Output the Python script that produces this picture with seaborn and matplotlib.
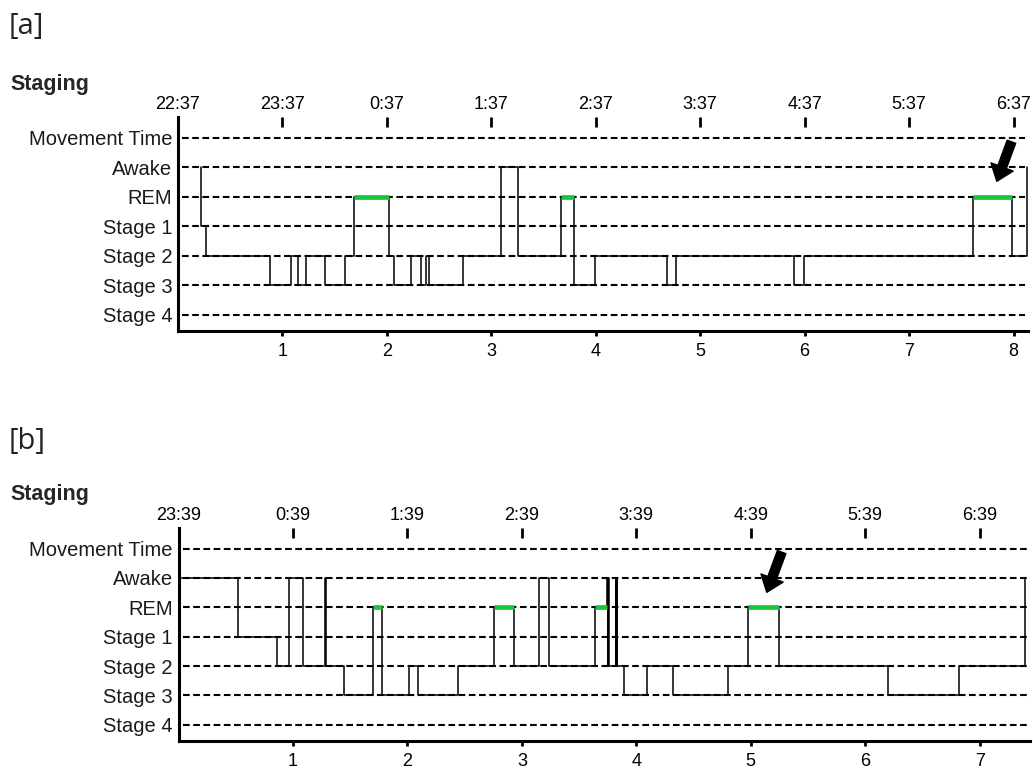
import numpy as np
import pandas as pd
import matplotlib
matplotlib.use('Agg')
import matplotlib.pyplot as plt
import seaborn as sns

# stage names, bottom to top
stage_order = ['Stage 4', 'Stage 3', 'Stage 2', 'Stage 1', 'REM', 'Awake', 'Movement Time']

# [a] hypnogram: onset (hours) and stage
a_onset = [0.22, 0.22, 0.27, 0.88, 1.08, 1.15, 1.23, 1.41, 1.60, 1.69, 2.02, 2.07, 2.23, 2.33,
           2.37, 2.40, 2.73, 3.09, 3.26, 3.67, 3.79, 3.99, 4.68, 4.77, 5.90, 5.99, 7.61, 7.99, 8.13]
a_stage = ['Awake', 'Stage 1', 'Stage 2', 'Stage 3', 'Stage 2', 'Stage 3', 'Stage 2', 'Stage 3',
           'Stage 2', 'REM', 'Stage 2', 'Stage 3', 'Stage 2', 'Stage 3', 'Stage 2', 'Stage 3',
           'Stage 2', 'Awake', 'Stage 2', 'REM', 'Stage 3', 'Stage 2', 'Stage 3', 'Stage 2',
           'Stage 3', 'Stage 2', 'REM', 'Stage 2', 'Awake']
a_clock = ['22:37', '23:37', '0:37', '1:37', '2:37', '3:37', '4:37', '5:37', '6:37']
a_hours = [1, 2, 3, 4, 5, 6, 7, 8]
a_arrow_tail = (7.98, 5.86)
a_arrow_tip = (7.84, 4.52)

# [b] hypnogram
b_onset = [0.00, 0.52, 0.86, 0.965, 1.09, 1.28, 1.285, 1.45, 1.70, 1.78, 2.01, 2.09, 2.44, 2.76,
           2.93, 3.15, 3.24, 3.64, 3.745, 3.75, 3.755, 3.76, 3.82, 3.825, 3.83, 3.835, 3.89,
           4.09, 4.32, 4.80, 4.98, 5.25, 6.20, 6.82, 7.40]
b_stage = ['Awake', 'Stage 1', 'Stage 2', 'Awake', 'Stage 2', 'Awake', 'Stage 2', 'Stage 3',
           'REM', 'Stage 3', 'Stage 2', 'Stage 3', 'Stage 2', 'REM', 'Stage 2', 'Awake', 'Stage 2',
           'REM', 'Awake', 'Stage 2', 'Awake', 'Stage 2', 'Awake', 'Stage 2', 'Awake', 'Stage 2',
           'Stage 3', 'Stage 2', 'Stage 3', 'Stage 2', 'REM', 'Stage 2', 'Stage 3', 'Stage 2', 'Awake']
b_clock = ['23:39', '0:39', '1:39', '2:39', '3:39', '4:39', '5:39', '6:39']
b_hours = [1, 2, 3, 4, 5, 6, 7]
b_arrow_tail = (5.27, 5.88)
b_arrow_tip = (5.14, 4.51)

sns.set_theme(style='white')
plt.rcParams['font.family'] = ['Liberation Sans', 'DejaVu Sans']

GREEN = '#14c83c'

fig = plt.figure(figsize=(10.33, 7.69), dpi=100)


def draw_panel(ax, onset, stage, clock, hours, xmax, tail, tip):
    df = pd.DataFrame({'t': onset, 'level': [stage_order.index(s) for s in stage]})

    # dashed stage lines
    ax.hlines(range(len(stage_order)), 0.04, xmax - 0.03, colors='black',
              linestyles=(0, (3.2, 1.7)), linewidth=1.5, zorder=1)

    sns.lineplot(data=df, x='t', y='level', drawstyle='steps-post', estimator=None,
                 sort=False, color='black', linewidth=1.1, ax=ax, zorder=3)

    # REM periods in green
    for i in range(len(df) - 1):
        if stage[i] == 'REM':
            ax.plot([onset[i], onset[i + 1]], [4, 4], color=GREEN, linewidth=3.4,
                    solid_capstyle='butt', zorder=4)

    ax.annotate('', xy=tip, xytext=tail,
                arrowprops=dict(facecolor='black', edgecolor='black', width=6.5,
                                headwidth=17, headlength=11, shrink=0))

    ax.set_xlim(0, xmax)
    ax.set_ylim(-0.55, 6.7)
    ax.set_yticks(range(len(stage_order)))
    ax.set_yticklabels(stage_order, fontsize=14.5, color='#1a1a1a')
    ax.set_xticks(hours)
    ax.set_xticklabels([str(h) for h in hours], fontsize=13)
    ax.set_xlabel('')
    ax.set_ylabel('')
    for s in ['top', 'right']:
        ax.spines[s].set_visible(False)
    for s in ['left', 'bottom']:
        ax.spines[s].set_linewidth(2.2)
        ax.spines[s].set_color('black')
    ax.tick_params(axis='y', length=0, pad=4)
    ax.tick_params(axis='x', bottom=True, direction='out', length=3.5, width=2, pad=5,
                   colors='black')

    top = ax.secondary_xaxis('top')
    top.set_xticks(range(len(clock)))
    top.set_xticklabels(clock, fontsize=13)
    top.spines['top'].set_visible(False)
    top.tick_params(direction='in', length=7.5, width=2, pad=3, colors='black')


ax_a = fig.add_axes([0.1723, 0.5696, 0.823, 0.2783])
draw_panel(ax_a, a_onset, a_stage, a_clock, a_hours, 8.14, a_arrow_tail, a_arrow_tip)

ax_b = fig.add_axes([0.1728, 0.0364, 0.8243, 0.277])
draw_panel(ax_b, b_onset, b_stage, b_clock, b_hours, 7.44, b_arrow_tail, b_arrow_tip)

# panel labels
fig.text(0.008, 0.966, '[a]', fontsize=21, family=['Open Sans', 'DejaVu Sans'],
         color='#222222', va='center')
fig.text(0.010, 0.890, 'Staging', fontsize=15.5, fontweight='bold', va='center')
fig.text(0.008, 0.426, '[b]', fontsize=21, family=['Open Sans', 'DejaVu Sans'],
         color='#222222', va='center')
fig.text(0.010, 0.357, 'Staging', fontsize=15.5, fontweight='bold', va='center')

fig.savefig('out.png', dpi=100)
